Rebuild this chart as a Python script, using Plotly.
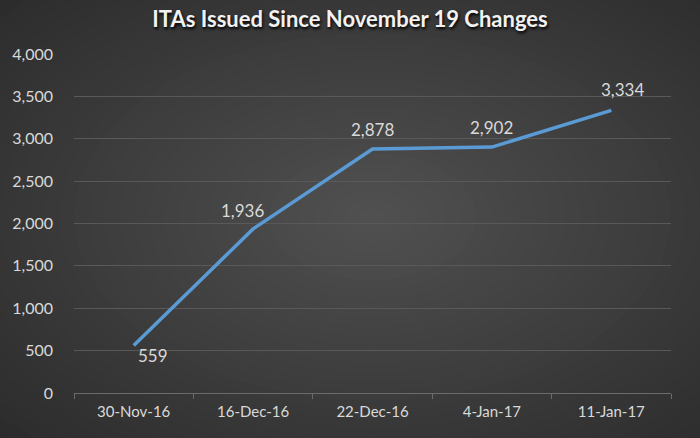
import plotly.graph_objects as go

categories = ["30-Nov-16", "16-Dec-16", "22-Dec-16", "4-Jan-17", "11-Jan-17"]
itas = [559, 1936, 2878, 2902, 3334]
label_offsets = [(19, 10), (-11, -18), (0, -20), (0, -20), (11, -21)]

FONT = "Lato, Calibri, sans-serif"
LBL = "#d9d9d9"

fig = go.Figure()
fig.add_trace(go.Scatter(
    x=categories, y=itas, mode="lines",
    line=dict(color="#5b9bd5", width=3.5), hoverinfo="x+y",
))

# radial gradient background approximation
shapes = []
n = 40
c_out = (38, 38, 38)
c_in = (80, 80, 80)
for i in range(n):
    t = i / (n - 1)
    r = 0.85 * (1 - t) + 0.02
    col = tuple(int(round(c_out[k] + (c_in[k] - c_out[k]) * t)) for k in range(3))
    shapes.append(dict(type="circle", xref="paper", yref="paper",
                       x0=0.5 - r * 1.15, x1=0.5 + r * 1.15, y0=0.52 - r * 1.25, y1=0.52 + r * 1.25,
                       fillcolor="rgb(%d,%d,%d)" % col, line=dict(width=0), layer="below"))

annotations = []
for i, (c, v) in enumerate(zip(categories, itas)):
    dx, dy = label_offsets[i]
    annotations.append(dict(x=c, y=v, xref="x", yref="y", text=f"{v:,}",
                            showarrow=(i == 0), ax=dx, ay=dy,
                            arrowcolor="#a6a6a6", arrowwidth=1, arrowhead=0,
                            standoff=3, startstandoff=9,
                            xshift=0 if i == 0 else dx, yshift=0 if i == 0 else -dy,
                            font=dict(family=FONT, size=17, color=LBL)))

fig.update_layout(
    width=700, height=438,
    margin=dict(l=66, r=29, t=54, b=45),
    paper_bgcolor="#262626", plot_bgcolor="rgba(0,0,0,0)",
    shapes=shapes, annotations=annotations, showlegend=False,
    title=dict(text="<b>ITAs Issued Since November 19 Changes</b>", x=0.5, xanchor="center",
               y=0.955, yanchor="middle",
               font=dict(family=FONT, size=22, color="#f2f2f2", shadow="1px 2px 3px #000")),
)
fig.update_xaxes(
    type="category", range=[-0.5, 4.5], showgrid=False,
    showline=True, linecolor="#6b6b6b", linewidth=1,
    ticks="outside", tickson="boundaries", ticklen=5, tickcolor="#6b6b6b",
    tickfont=dict(family=FONT, size=15, color=LBL), ticklabelstandoff=5,
)
fig.update_yaxes(
    range=[0, 4000], dtick=500, tickformat=",d",
    showgrid=True, gridcolor="#595959", gridwidth=1, zeroline=False,
    tickfont=dict(family=FONT, size=16, color=LBL), ticklabelstandoff=20,
)
fig.write_html("out.html", config={"displayModeBar": False},
               post_script="document.body.style.margin='0';document.body.style.overflow='hidden';")
